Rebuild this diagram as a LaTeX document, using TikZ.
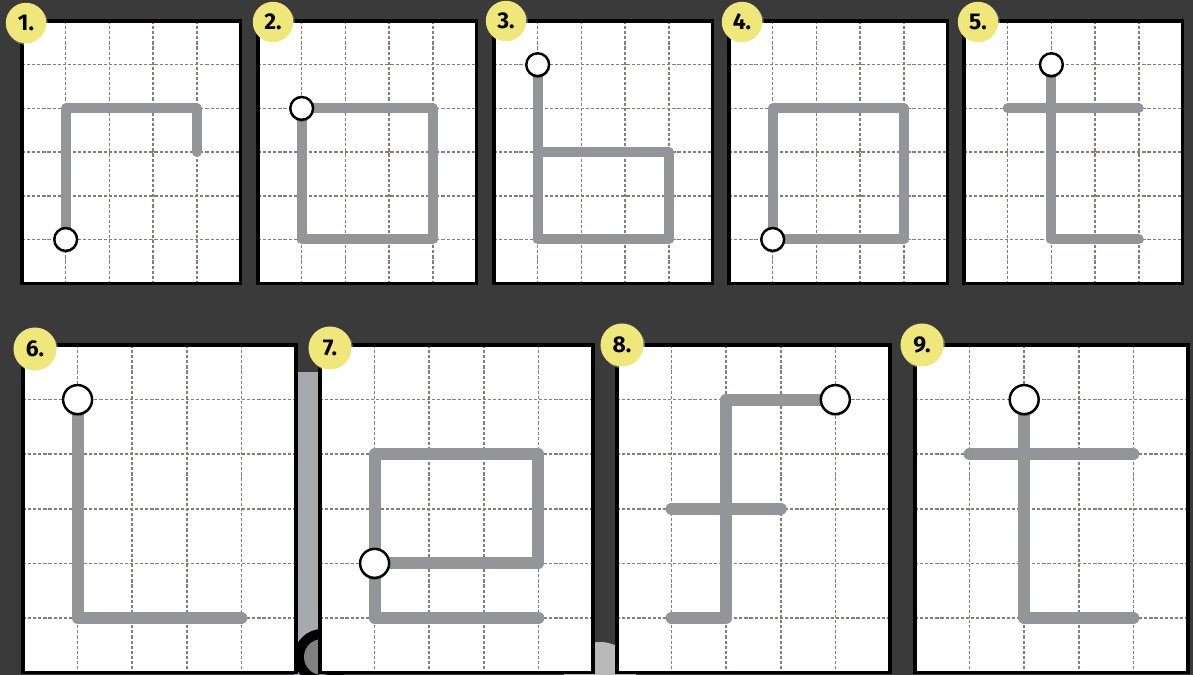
\documentclass[tikz,border=0pt]{standalone}
\usepackage{fontspec}
\setsansfont{Fira Sans}
\usetikzlibrary{shadows}

\definecolor{bgdark}{RGB}{58,58,58}
\definecolor{pathgray}{RGB}{147,149,152}
\definecolor{gridbrown}{RGB}{138,122,122}
\definecolor{badgeyellow}{RGB}{240,231,122}
\definecolor{stripgray}{RGB}{166,170,174}

\tikzset{
  sheet/.style={draw=black, line width=#1},
  sheet/.default=1.8pt,
  gridline/.style={gridbrown, line width=0.9pt, dash pattern=on 1.8pt off 1.1pt},
  stroke/.style={pathgray, line cap=round, line join=round, line width=#1},
  stroke/.default=5.7pt,
  startdot/.style={circle, draw=black, fill=white, line width=1.4pt, inner sep=0pt,
    minimum size=#1, drop shadow={shadow xshift=0pt, shadow yshift=-1.2pt, fill=black, opacity=0.25}},
  startdot/.default=13pt,
  badge/.style={circle, fill=badgeyellow, inner sep=0pt, minimum size=#1,
    font=\sffamily\bfseries\fontsize{13}{13}\selectfont,
    drop shadow={shadow xshift=1pt, shadow yshift=-1.2pt, fill=white, opacity=0.35}},
  badge/.default=23pt,
}

% white sheet with dashed 5x6 grid, in cell units
\newcommand{\sheetgrid}[1]{%
  \fill[white] (0,0) rectangle (5,6);
  \foreach \c in {1,...,4} \draw[gridline] (\c,0) -- (\c,6);
  \foreach \r in {1,...,5} \draw[gridline] (0,\r) -- (5,\r);
  \draw[sheet=#1] (0,0) rectangle (5,6);
}

\begin{document}
\begin{tikzpicture}[x=0.02cm, y=-0.02cm]
		\useasboundingbox (0,0) rectangle (1193,675);
		\fill[bgdark] (0,0) rectangle (1193,675);

		% Top row
		\begin{scope}[shift={(22,21)}, x=0.874cm, y=-0.874cm]
			\sheetgrid{1.8pt}
			\draw[stroke] (1,5) -- (1,2) -- (4,2) -- (4,3);
			\node[startdot] (s1) at (1,5) {};
		\end{scope}

		\begin{scope}[shift={(258,21)}, x=0.874cm, y=-0.874cm]
			\sheetgrid{1.8pt}
			\draw[stroke] (1,2) -- (4,2) -- (4,5) -- (1,5) -- cycle;
			\node[startdot] (s2) at (1,2) {};
		\end{scope}

		\begin{scope}[shift={(494,21)}, x=0.874cm, y=-0.874cm]
			\sheetgrid{1.8pt}
			\draw[stroke] (1,1) -- (1,5) -- (4,5) -- (4,3) -- (1,3);
			\node[startdot] (s3) at (1,1) {};
		\end{scope}

		\begin{scope}[shift={(729,21)}, x=0.874cm, y=-0.874cm]
			\sheetgrid{1.8pt}
			\draw[stroke] (1,5) -- (1,2) -- (4,2) -- (4,5) -- cycle;
			\node[startdot] (s4) at (1,5) {};
		\end{scope}

		\begin{scope}[shift={(964,21)}, x=0.874cm, y=-0.874cm]
			\sheetgrid{1.8pt}
			\draw[stroke] (1,2) -- (4,2);
			\draw[stroke] (2,1) -- (2,5) -- (4,5);
			\node[startdot] (s5) at (2,1) {};
		\end{scope}

		% Bits of the backdrop between the lower sheets
		\fill[stripgray] (294,372) rectangle (324,675);
		\fill[black] (322,657) circle (28);
		\fill[gray] (322,657) circle (18);
		\fill[gray!55] (600,678) circle (36);

		% Bottom row
		\begin{scope}[shift={(23,345)}, x=1.092cm, y=-1.092cm]
			\sheetgrid{2.1pt}
			\draw[stroke=6.9pt] (1,1) -- (1,5) -- (4,5);
			\node[startdot=16.5pt] (s6) at (1,1) {};
		\end{scope}

		\begin{scope}[shift={(320,345)}, x=1.092cm, y=-1.092cm]
			\sheetgrid{2.1pt}
			\draw[stroke=6.9pt] (1,4) -- (4,4) -- (4,2) -- (1,2) -- (1,5) -- (4,5);
			\node[startdot=16.5pt] (s7) at (1,4) {};
		\end{scope}

		\begin{scope}[shift={(617,345)}, x=1.092cm, y=-1.092cm]
			\sheetgrid{2.1pt}
			\draw[stroke=6.9pt] (1,3) -- (3,3);
			\draw[stroke=6.9pt] (4,1) -- (2,1) -- (2,5) -- (1,5);
			\node[startdot=16.5pt] (s8) at (4,1) {};
		\end{scope}

		\begin{scope}[shift={(915,345)}, x=1.092cm, y=-1.092cm]
			\sheetgrid{2.1pt}
			\draw[stroke=6.9pt] (1,2) -- (4,2);
			\draw[stroke=6.9pt] (2,1) -- (2,5) -- (4,5);
			\node[startdot=16.5pt] (s9) at (2,1) {};
		\end{scope}

		% Number badges
		\node[badge] (b1) at (26,23) {1.};
		\node[badge] (b2) at (273,22) {2.};
		\node[badge] (b3) at (506,21) {3.};
		\node[badge] (b4) at (742,22) {4.};
		\node[badge] (b5) at (978,22) {5.};
		\node[badge=24.5pt] (b6) at (35,349) {6.};
		\node[badge=24.5pt] (b7) at (330,348) {7.};
		\node[badge=24.5pt] (b8) at (622,345) {8.};
		\node[badge=24.5pt] (b9) at (922,345) {9.};
	\end{tikzpicture}
\end{document}
